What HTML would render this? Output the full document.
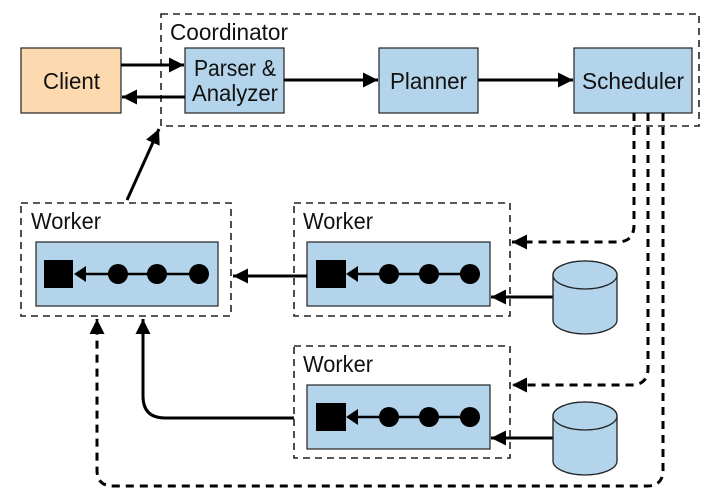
<!DOCTYPE html>
<html><head><style>
html,body{margin:0;padding:0;background:#fff;}
svg{display:block;}
text{font-family:"Liberation Sans Narrow","Liberation Sans",sans-serif;font-size:23px;fill:#111;}
</style></head><body>
<svg width="709" height="500" viewBox="0 0 709 500" xmlns="http://www.w3.org/2000/svg">
<defs>
<marker id="a" viewBox="0 0 10 10" refX="10" refY="5" markerWidth="5" markerHeight="5" orient="auto" markerUnits="strokeWidth"><path d="M0,0L10,5L0,10z" fill="#000"/></marker>
</defs>
<g fill="none" stroke="#222" stroke-width="1.6" stroke-dasharray="7,5">
<rect x="161" y="14" width="538" height="112"/>
<rect x="21" y="203" width="210" height="113"/>
<rect x="294" y="203" width="216" height="113"/>
<rect x="294" y="346" width="216" height="112"/>
</g>
<text x="170" y="40" textLength="118" lengthAdjust="spacingAndGlyphs">Coordinator</text>
<text x="31" y="229" textLength="70" lengthAdjust="spacingAndGlyphs">Worker</text>
<text x="303" y="229" textLength="70" lengthAdjust="spacingAndGlyphs">Worker</text>
<text x="303" y="372" textLength="70" lengthAdjust="spacingAndGlyphs">Worker</text>
<rect x="21" y="48" width="100" height="65" fill="#fdd9b0" stroke="#222" stroke-width="1.2"/>
<text x="43" y="89" textLength="57" lengthAdjust="spacingAndGlyphs">Client</text>
<g fill="#b3d4ea" stroke="#222" stroke-width="1.2">
<rect x="185" y="48" width="99" height="65"/>
<rect x="379" y="48" width="99" height="65"/>
<rect x="574" y="48" width="118" height="65"/>
<rect x="36" y="242" width="182" height="64"/>
<rect x="307" y="242" width="183" height="64"/>
<rect x="307" y="385" width="183" height="64"/>
</g>
<text x="194" y="76" textLength="82" lengthAdjust="spacingAndGlyphs">Parser &amp;</text>
<text x="192" y="101" textLength="86" lengthAdjust="spacingAndGlyphs">Analyzer</text>
<text x="390" y="89" textLength="77" lengthAdjust="spacingAndGlyphs">Planner</text>
<text x="582" y="89" textLength="102" lengthAdjust="spacingAndGlyphs">Scheduler</text>
<g stroke="#000" stroke-width="3" fill="none" marker-end="url(#a)">
<line x1="121" y1="65" x2="184" y2="65"/>
<line x1="185" y1="97" x2="122" y2="97"/>
<line x1="284" y1="80" x2="378" y2="80"/>
<line x1="478" y1="80" x2="573" y2="80"/>
<line x1="127" y1="200" x2="159" y2="129"/>
<line x1="307" y1="276" x2="233" y2="276"/>
<line x1="553" y1="297" x2="491" y2="297"/>
<line x1="553" y1="438" x2="491" y2="438"/>
<path d="M294,418 H165 Q143,418 143,396 V319"/>
</g>
<g stroke="#000" stroke-width="3" fill="none" stroke-dasharray="8,6" marker-end="url(#a)">
<path d="M634,113 V225 Q634,242 617,242 H512"/>
<path d="M648,113 V368 Q648,385 631,385 H512"/>
<path d="M663,113 V470 Q663,486 647,486 H113 Q97,486 97,470 V319"/>
</g>
<g stroke="#000" stroke-width="2.5"><line x1="80" y1="274" x2="199" y2="274"/><line x1="351" y1="274" x2="470" y2="274"/><line x1="351" y1="417" x2="470" y2="417"/></g>
<g fill="#000">
<rect x="44" y="260" width="29" height="28"/><path d="M74,274L86,266V282z"/>
<circle cx="118" cy="274" r="10"/><circle cx="157" cy="274" r="10"/><circle cx="199" cy="274" r="10"/>
<rect x="316" y="260" width="30" height="28"/><path d="M346,274L358,266V282z"/>
<circle cx="389" cy="274" r="10"/><circle cx="429" cy="274" r="10"/><circle cx="470" cy="274" r="10"/>
<rect x="316" y="403" width="30" height="28"/><path d="M346,417L358,409V425z"/>
<circle cx="389" cy="417" r="10"/><circle cx="429" cy="417" r="10"/><circle cx="470" cy="417" r="10"/>
</g>
<g fill="#b3d4ea" stroke="#222" stroke-width="1.3">
<path d="M553,275 V320 A32,14 0 0 0 617,320 V275 A32,14 0 0 0 553,275z"/>
<ellipse cx="585" cy="275" rx="32" ry="14"/>
<path d="M553,416 V461 A32,14 0 0 0 617,461 V416 A32,14 0 0 0 553,416z"/>
<ellipse cx="585" cy="416" rx="32" ry="14"/>
</g>
</svg>
</body></html>
